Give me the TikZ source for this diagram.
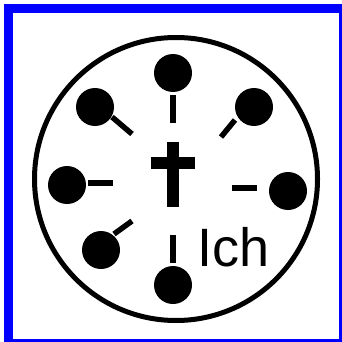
\documentclass[tikz,border=0pt]{standalone}
\usepackage{fontspec}
\setmainfont{Liberation Sans}
\definecolor{framblue}{RGB}{0,0,255}
\tikzset{
  dot/.style={circle, fill=black, inner sep=0pt, minimum size=38pt},
  tick/.style={line width=5.5pt}
}
\begin{document}
\begin{tikzpicture}[x=1pt, y=-1pt]
  \useasboundingbox (0,0) rectangle (342,342);
  \fill[white] (0,0) rectangle (342,342);
  \draw[framblue, line width=8.5pt] (8.5,8.5) rectangle (343.5,343.5);

  \draw[line width=5pt] (176,179) circle (141.5);

  \node[dot] (top) at (173,73) {};
  \node[dot] (ul) at (95,107) {};
  \node[dot] (ur) at (254,107) {};
  \node[dot] (left) at (67,185) {};
  \node[dot] (right) at (288,191) {};
  \node[dot] (ll) at (101,250) {};
  \node[dot] (bottom) at (173,285) {};

  \draw[tick] (173,95) -- (173,123);
  \draw[tick] (112,117) -- (132,134);
  \draw[tick] (235,120) -- (221,137);
  \draw[tick] (88,183) -- (113,183);
  \draw[tick] (232,188) -- (257,188);
  \draw[tick] (114,234) -- (132,221);
  \draw[tick] (173,235) -- (173,263);

  \fill (166.7,142.3) rectangle (179,206.7);
  \fill (151,156.7) rectangle (195,169);

  \node[anchor=base west, inner sep=0pt, font=\fontsize{54}{62}\selectfont] (ich) at (197,266.7) {Ich};
\end{tikzpicture}
\end{document}
